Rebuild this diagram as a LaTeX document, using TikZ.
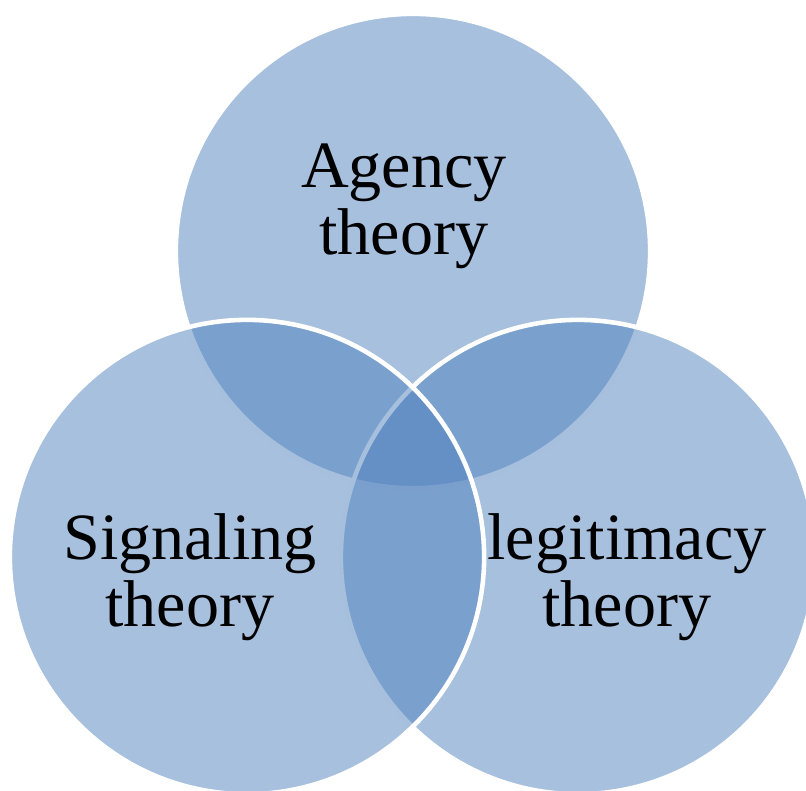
\documentclass[tikz,border=0pt]{standalone}
\usepackage{fontspec}
\setmainfont{Liberation Serif}
\usepackage{tikz}
\definecolor{vennblue}{HTML}{4F81BD}
\tikzset{
     venn/.style = { circle, minimum size=4.74cm, inner sep=0pt, fill=vennblue,
                     fill opacity=0.5, draw=white, line width=1.3pt },
   theory/.style = { align=center, inner sep=0pt,
                     font=\fontsize{18.8pt}{19pt}\selectfont }
}
\begin{document}
\begin{tikzpicture}[x=0.01cm, y=-0.01cm]
  \useasboundingbox (0,0) rectangle (806,790);
  % circles
  \node at(413,251) [venn] (agencyc) {};
  \node at(578,557) [venn] (legitc) {};
  \node at(247,557) [venn] (signalc) {};

  % labels
  \node at(404,206) [theory] (agency) {Agency\\theory};
  \node at(190,577) [theory] (signal) {Signaling\\theory};
  \node at(627,577) [theory] (legit) {legitimacy\\theory};
\end{tikzpicture}
\end{document}
